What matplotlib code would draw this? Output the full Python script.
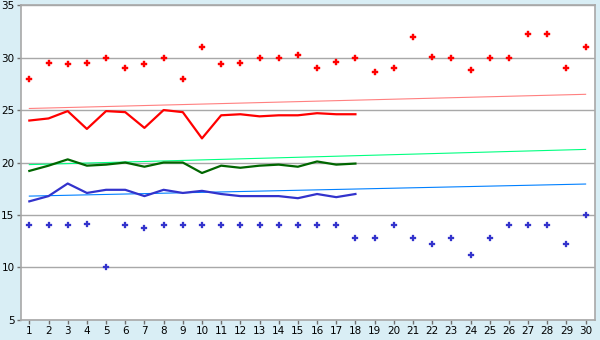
import numpy as np
import matplotlib
matplotlib.use("Agg")
import matplotlib.pyplot as plt

# daily values
days = list(range(1, 31))
max_temp = [28, 29.5, 29.4, 29.5, 30, 29, 29.4, 30, 28, 31,
            29.4, 29.5, 30, 30, 30.2, 29, 29.6, 30, 28.6, 29,
            32, 30.1, 30, 28.8, 30, 30, 32.2, 32.2, 29, 31]
min_temp = [14, 14, 14, 14.1, 10, 14, 13.8, 14, 14, 14,
            14, 14, 14, 14, 14, 14, 14, 12.8, 12.8, 14,
            12.8, 12.2, 12.8, 11.2, 12.8, 14, 14, 14, 12.2, 15]

# running averages (first 18 days)
avg_days = list(range(1, 19))
avg_max = [24.0, 24.2, 24.9, 23.2, 24.9, 24.8, 23.3, 25.0, 24.8, 22.3,
           24.5, 24.6, 24.4, 24.5, 24.5, 24.7, 24.6, 24.6]
avg_mean = [19.2, 19.7, 20.3, 19.7, 19.8, 20.0, 19.6, 20.0, 20.0, 19.0,
            19.7, 19.5, 19.7, 19.8, 19.6, 20.1, 19.8, 19.9]
avg_min = [16.3, 16.8, 18.0, 17.1, 17.4, 17.4, 16.8, 17.4, 17.1, 17.3,
           17.0, 16.8, 16.8, 16.8, 16.6, 17.0, 16.7, 17.0]

# trend lines (start, end)
trend_days = [1, 30]
trend_max = [25.15, 26.5]
trend_mean = [19.8, 21.25]
trend_min = [16.8, 17.95]

bg = "#D9EEF5"
fig = plt.figure(figsize=(6, 3.4), dpi=100, facecolor=bg)
ax = fig.add_axes([0.0345, 0.059, 0.9575, 0.926])
ax.set_facecolor("white")

ax.plot(trend_days, trend_max, color="#FF8080", lw=0.8, zorder=2)
ax.plot(trend_days, trend_mean, color="#00FF80", lw=0.8, zorder=2)
ax.plot(trend_days, trend_min, color="#0080FF", lw=0.8, zorder=2)

ax.plot(avg_days, avg_max, color="#FF0000", lw=1.6, zorder=3)
ax.plot(avg_days, avg_mean, color="#006600", lw=1.6, zorder=3)
ax.plot(avg_days, avg_min, color="#3333CC", lw=1.6, zorder=3)

ax.plot(days, max_temp, ls="none", marker="P", ms=5, color="#FF0000", mec="#FF0000", mew=0.3, zorder=4)
ax.plot(days, min_temp, ls="none", marker="P", ms=4, color="#3333CC", mec="#3333CC", mew=0.2, zorder=4)

ax.set_xlim(0.55, 30.5)
ax.set_ylim(5, 35)
ax.set_xticks(days)
ax.set_yticks(range(5, 36, 5))
ax.yaxis.grid(True, color="#A8A8A8", lw=1)
ax.set_axisbelow(True)
for s in ax.spines.values():
    s.set_color("#A8A8A8")
    s.set_linewidth(1.2)
ax.tick_params(axis="both", colors="#707070", labelcolor="black", labelsize=7.5,
               length=3, width=1, pad=1.5)

fig.savefig("out.png", dpi=100, facecolor=bg)
